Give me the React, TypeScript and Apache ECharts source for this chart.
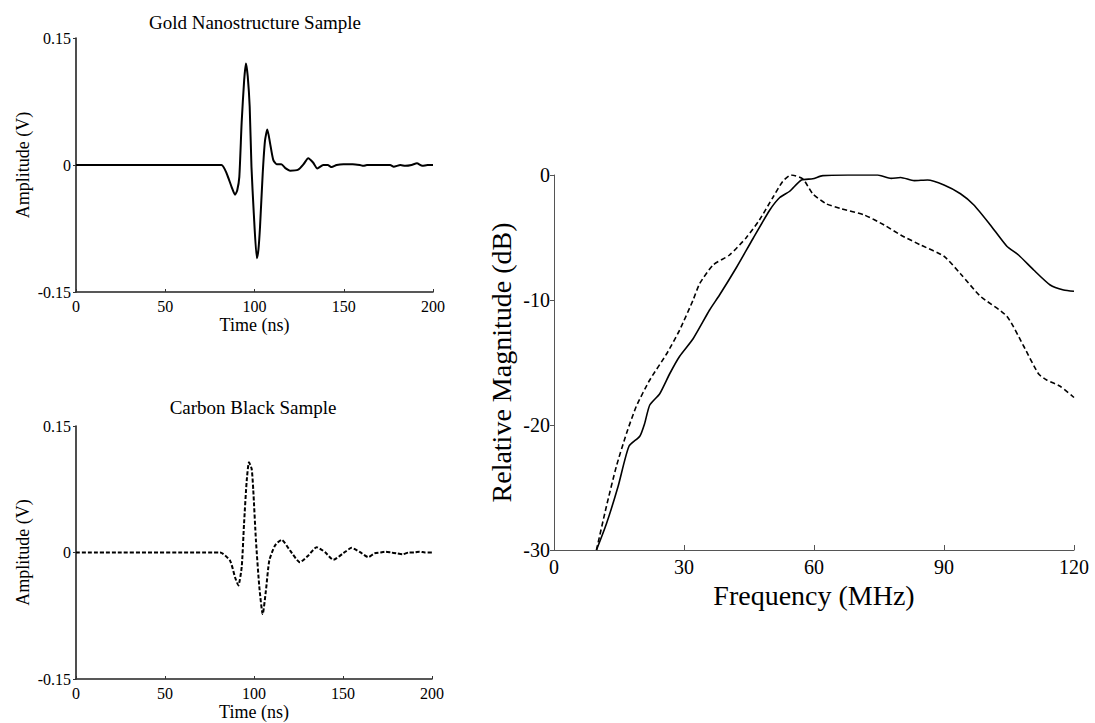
import React, { useEffect, useRef } from "react";
import * as echarts from "echarts";

// ---- Data ----
const goldTime = [0, 81.5, 84.4, 87.2, 89.1, 90.3, 91.5, 92.8, 94.2, 95.2, 96.2, 97.3, 98.3, 99.6, 101.3, 102.2, 103.1, 104.6, 105.9, 107.2, 108.7, 110.5, 112.4, 115, 117.5, 119.9, 124.5, 127.5, 130.1, 132.8, 135.2, 138.5, 141, 143.2, 146, 149.8, 155, 159, 161, 163, 170, 176, 178, 181.7, 184.5, 188, 191, 194, 197, 200];
const goldAmp = [0, 0, -0.01, -0.026, -0.035, -0.03, -0.014, 0.05, 0.1, 0.12, 0.105, 0.069, -0.002, -0.057, -0.11, -0.1, -0.073, -0.01, 0.029, 0.042, 0.026, 0.006, 0.001, 0.001, -0.004, -0.0067, -0.0055, 0.001, 0.008, 0.003, -0.004, 0.0, 0.0, -0.0025, 0.0, 0.001, 0.001, 0.0, -0.001, 0.0, 0.0, 0.0, -0.002, 0.0, -0.001, 0.0, 0.002, -0.001, 0.0, 0.0];

const carbonTime = [0, 80.9, 86.5, 89.3, 91.2, 93.1, 94.4, 95.9, 97.2, 98.7, 99.6, 101.1, 103, 104.9, 106.7, 108.6, 111.8, 115.5, 120.2, 125.8, 130.5, 135.2, 139.9, 144.6, 150.2, 154.9, 159.6, 164.2, 167.7, 171, 174, 177, 180, 183.5, 187, 190, 193, 196, 200];
const carbonAmp = [0, 0, -0.0095, -0.029, -0.039, -0.017, 0.034, 0.085, 0.107, 0.099, 0.0735, 0.014, -0.041, -0.073, -0.045, -0.0095, 0.0083, 0.015, 0.0024, -0.0115, -0.0036, 0.0063, 0.0004, -0.0087, -0.0008, 0.0055, 0.0004, -0.0055, -0.001, 0.0, 0.001, 0.0, -0.001, -0.002, 0.0, 0.0, 0.001, 0.0, 0.0];

const goldFreq = [9.8, 12.1, 14.8, 17.3, 19.8, 20.9, 22.1, 24.4, 26.7, 29, 32.1, 35.9, 38.2, 42.1, 45.9, 49.8, 52.1, 54.4, 57.1, 59.7, 62, 67.8, 74.7, 77.8, 80, 83.1, 86.2, 90, 93.8, 96.9, 100.7, 104.5, 107.2, 110.7, 114.5, 117.6, 120];
const goldMag = [-30, -27.9, -24.9, -21.7, -20.9, -19.9, -18.4, -17.5, -15.9, -14.5, -13.1, -10.8, -9.6, -7.4, -5.1, -2.8, -1.8, -1.3, -0.4, -0.3, -0.05, 0, 0, -0.27, -0.2, -0.45, -0.4, -0.8, -1.5, -2.4, -4.0, -5.7, -6.4, -7.6, -8.8, -9.2, -9.3];

const carbonFreq = [9.8, 12.1, 14.4, 16.7, 19, 22.1, 26, 29, 32.1, 33.6, 36.7, 40.5, 44.4, 47.4, 50.5, 52.8, 54.7, 57.4, 59.7, 62.8, 66.3, 71.6, 76.2, 80, 84.6, 90, 93.8, 98.4, 104.5, 108.4, 111.8, 113.7, 116.8, 120];
const carbonMag = [-30, -26.5, -23.3, -20.7, -18.5, -16.4, -14.3, -12.4, -10, -8.7, -7.2, -6.4, -5.0, -3.6, -1.8, -0.5, 0, -0.3, -1.5, -2.3, -2.7, -3.2, -4.0, -4.8, -5.6, -6.5, -7.9, -9.7, -11.3, -13.7, -15.9, -16.4, -16.9, -17.8];

const titles = ["Gold Nanostructure Sample", "Carbon Black Sample"];
const timeAxisName = "Time (ns)";
const ampAxisName = "Amplitude (V)";
const freqAxisName = "Frequency (MHz)";
const magAxisName = "Relative Magnitude (dB)";

const zip = (xs: number[], ys: number[]) => xs.map((x, i) => [x, ys[i]]);

const FONT = "'Liberation Serif', 'Times New Roman', serif";

export default function App() {
  const ref = useRef<HTMLDivElement>(null);
  useEffect(() => {
    document.body.style.margin = "0";
    const chart = echarts.init(ref.current!, null, { renderer: "svg" });

    const leftX = (gi: number) => ({
      gridIndex: gi,
      type: "value",
      min: 0,
      max: 200,
      interval: 50,
      name: timeAxisName,
      nameLocation: "middle",
      nameGap: 24,
      nameTextStyle: { color: "#000", fontSize: 18, fontFamily: FONT },
      axisLine: { show: true, onZero: false, lineStyle: { color: "#222", width: 1.6 } },
      axisTick: { show: true, inside: true, length: 3, lineStyle: { color: "#333" } },
      axisLabel: { color: "#000", fontSize: 16, fontFamily: FONT, margin: 6 },
      splitLine: { show: false },
    });
    const leftY = (gi: number) => ({
      gridIndex: gi,
      type: "value",
      min: -0.15,
      max: 0.15,
      interval: 0.15,
      name: ampAxisName,
      nameLocation: "middle",
      nameGap: 44,
      nameTextStyle: { color: "#000", fontSize: 18, fontFamily: FONT },
      axisLine: { show: true, onZero: false, lineStyle: { color: "#222", width: 1.6 } },
      axisTick: { show: true, length: 3, lineStyle: { color: "#333" } },
      axisLabel: { color: "#000", fontSize: 16, fontFamily: FONT, margin: 5 },
      splitLine: { show: false },
    });

    chart.setOption({
      animation: false,
      backgroundColor: "#fff",
      grid: [
        { left: 76, top: 38, width: 357, height: 254 },
        { left: 76, top: 426, width: 356, height: 253 },
        { left: 554, top: 175, width: 520, height: 375 },
      ],
      graphic: [
        {
          type: "text",
          x: 255,
          y: 22,
          style: { text: titles[0], fontSize: 19, fontFamily: FONT, fill: "#000", align: "center", verticalAlign: "middle" },
        },
        {
          type: "text",
          x: 253,
          y: 407,
          style: { text: titles[1], fontSize: 19, fontFamily: FONT, fill: "#000", align: "center", verticalAlign: "middle" },
        },
      ],
      xAxis: [
        leftX(0),
        leftX(1),
        {
          gridIndex: 2,
          type: "value",
          min: 0,
          max: 120,
          interval: 30,
          name: freqAxisName,
          nameLocation: "middle",
          nameGap: 27,
          nameTextStyle: { color: "#000", fontSize: 28, fontFamily: FONT },
          axisLine: { show: true, onZero: false, lineStyle: { color: "#555", width: 1 } },
          axisTick: { show: true, inside: true, length: 5, lineStyle: { color: "#555" } },
          axisLabel: { color: "#000", fontSize: 20, fontFamily: FONT, margin: 7 },
          splitLine: { show: false },
        },
      ],
      yAxis: [
        leftY(0),
        leftY(1),
        {
          gridIndex: 2,
          type: "value",
          min: -30,
          max: 0,
          interval: 10,
          name: magAxisName,
          nameLocation: "middle",
          nameGap: 39,
          nameTextStyle: { color: "#000", fontSize: 28, fontFamily: FONT },
          axisLine: { show: true, onZero: false, lineStyle: { color: "#555", width: 1 } },
          axisTick: { show: true, length: 4, lineStyle: { color: "#555" } },
          axisLabel: { color: "#000", fontSize: 20, fontFamily: FONT, margin: 4 },
          splitLine: { show: false },
        },
      ],
      series: [
        {
          name: "Gold Nanostructure Sample",
          type: "line",
          xAxisIndex: 0,
          yAxisIndex: 0,
          data: zip(goldTime, goldAmp),
          showSymbol: false,
          smooth: 0.2,
          lineStyle: { color: "#000", width: 2 },
        },
        {
          name: "Carbon Black Sample",
          type: "line",
          xAxisIndex: 1,
          yAxisIndex: 1,
          data: zip(carbonTime, carbonAmp),
          showSymbol: false,
          smooth: 0.2,
          lineStyle: { color: "#000", width: 2, type: [4, 2] },
        },
        {
          name: "Gold spectrum",
          type: "line",
          xAxisIndex: 2,
          yAxisIndex: 2,
          data: zip(goldFreq, goldMag),
          showSymbol: false,
          smooth: 0.2,
          lineStyle: { color: "#000", width: 1.6 },
        },
        {
          name: "Carbon spectrum",
          type: "line",
          xAxisIndex: 2,
          yAxisIndex: 2,
          data: zip(carbonFreq, carbonMag),
          showSymbol: false,
          smooth: 0.2,
          lineStyle: { color: "#000", width: 1.6, type: [5, 3] },
        },
      ],
    });
    return () => chart.dispose();
  }, []);
  return <div ref={ref} style={{ width: 1095, height: 723, background: "#fff" }} />;
}
